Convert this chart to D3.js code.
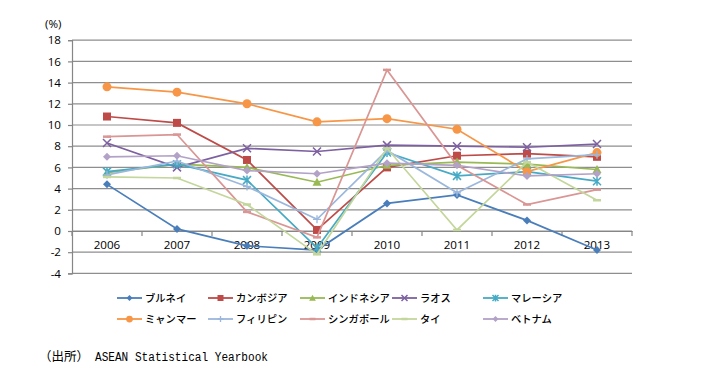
<!DOCTYPE html>
<html><head><meta charset="utf-8">
<script src="https://cdn.jsdelivr.net/npm/d3@7"></script>
<style>body{margin:0;background:#fff}svg{display:block}</style>
</head><body>
<svg id="c" width="716" height="391"></svg>
<script>
const years = ["2006","2007","2008","2009","2010","2011","2012","2013"];
const yTicks = [-4,-2,0,2,4,6,8,10,12,14,16,18];
const seriesNames = ["ブルネイ","カンボジア","インドネシア","ラオス","マレーシア","ミャンマー","フィリピン","シンガポール","タイ","ベトナム"];
const brunei    = [4.4, 0.2, -1.4, -1.8, 2.6, 3.4, 1.0, -1.8];
const cambodia  = [10.8, 10.2, 6.7, 0.1, 6.0, 7.1, 7.3, 7.0];
const indonesia = [5.5, 6.3, 6.0, 4.6, 6.2, 6.5, 6.3, 5.8];
const laos      = [8.3, 6.0, 7.8, 7.5, 8.1, 8.0, 7.9, 8.2];
const malaysia  = [5.6, 6.3, 4.8, -1.6, 7.4, 5.2, 5.6, 4.7];
const myanmar   = [13.6, 13.1, 12.0, 10.3, 10.6, 9.6, 5.6, 7.4];
const philippines = [5.3, 6.6, 4.2, 1.1, 7.6, 3.6, 6.8, 7.2];
const singapore = [8.9, 9.1, 1.8, -0.6, 15.2, 6.2, 2.5, 3.9];
const thailand  = [5.1, 5.0, 2.5, -2.2, 7.8, 0.1, 6.5, 2.9];
const vietnam   = [7.0, 7.1, 5.7, 5.4, 6.4, 6.2, 5.2, 5.4];
const colors = ["#4A7EBB","#BE4B48","#98B954","#7D60A0","#46AAC5","#F79646","#9BB7DC","#D99694","#C3D69B","#B3A2C7"];
const markers = ["diamond","square","triangle","x","star","circle","plus","dash","dash","diamond"];
const allData = [brunei,cambodia,indonesia,laos,malaysia,myanmar,philippines,singapore,thailand,vietnam];

const svg = d3.select("#c");
const x = d3.scaleBand().domain(years).range([72,632]);
const y = d3.scaleLinear().domain([-4,18]).range([273.4,40.2]);
const cx = d => x(d) + x.bandwidth()/2;
const axisFont = "'Open Sans',sans-serif";

// gridlines
svg.append("g").selectAll("line").data(yTicks).join("line")
  .attr("x1",72).attr("x2",632).attr("y1",d=>y(d)).attr("y2",d=>y(d))
  .attr("stroke","#8e8e8e").attr("stroke-width",1.2);
// y axis
const ya = svg.append("g").attr("transform","translate(72,0)")
  .call(d3.axisLeft(y).tickValues(yTicks).tickSize(4).tickPadding(7).tickFormat(d=>String(d)));
ya.select(".domain").attr("stroke","#868686").attr("stroke-width",1.2);
ya.selectAll(".tick line").attr("stroke","#868686").attr("stroke-width",1.2);
ya.selectAll("text").attr("font-family",axisFont).attr("font-size","11.6px").attr("fill","#000");
// x axis at 0
const xa = svg.append("g").attr("transform",`translate(0,${y(0)})`)
  .call(d3.axisBottom(x).tickSize(0).tickPadding(10));
xa.select(".domain").attr("stroke","#868686").attr("stroke-width",1.2);
xa.selectAll("text").attr("font-family",axisFont).attr("font-size","11.6px").attr("fill","#000");
// category boundary tick marks
svg.append("g").selectAll("line").data(d3.range(years.length+1)).join("line")
  .attr("x1",i=>72+i*x.bandwidth()).attr("x2",i=>72+i*x.bandwidth())
  .attr("y1",y(0)).attr("y2",y(0)+5).attr("stroke","#868686").attr("stroke-width",1.2);

svg.append("text").attr("x",45).attr("y",28).text("(%)")
  .attr("font-family",axisFont).attr("font-size","11.6px");

function drawMarker(g, type, color, px, py, s){
  s = s||1;
  if(type==="diamond"){
    g.append("path").attr("d",`M${px},${py-4*s}L${px+4*s},${py}L${px},${py+4*s}L${px-4*s},${py}Z`).attr("fill",color);
  } else if(type==="square"){
    g.append("rect").attr("x",px-4*s).attr("y",py-4*s).attr("width",8*s).attr("height",8*s).attr("fill",color);
  } else if(type==="triangle"){
    g.append("path").attr("d",`M${px},${py-4.5*s}L${px+4.5*s},${py+3.5*s}L${px-4.5*s},${py+3.5*s}Z`).attr("fill",color);
  } else if(type==="circle"){
    g.append("circle").attr("cx",px).attr("cy",py).attr("r",4.5*s).attr("fill",color);
  } else if(type==="x"){
    g.append("path").attr("d",`M${px-4*s},${py-4*s}L${px+4*s},${py+4*s}M${px-4*s},${py+4*s}L${px+4*s},${py-4*s}`).attr("stroke",color).attr("stroke-width",1.5);
  } else if(type==="star"){
    g.append("path").attr("d",`M${px-4*s},${py-4*s}L${px+4*s},${py+4*s}M${px-4*s},${py+4*s}L${px+4*s},${py-4*s}M${px},${py-4.5*s}L${px},${py+4.5*s}`).attr("stroke",color).attr("stroke-width",1.5);
  } else if(type==="plus"){
    g.append("path").attr("d",`M${px-4*s},${py}L${px+4*s},${py}M${px},${py-4*s}L${px},${py+4*s}`).attr("stroke",color).attr("stroke-width",1.3);
  } else if(type==="dash"){
    g.append("path").attr("d",`M${px-4*s},${py}L${px+4*s},${py}`).attr("stroke",color).attr("stroke-width",2.5);
  }
}

const line = d3.line().x((d,i)=>cx(years[i])).y(d=>y(d));
allData.forEach((vals,k)=>{
  const g = svg.append("g");
  g.append("path").attr("d",line(vals)).attr("fill","none").attr("stroke",colors[k]).attr("stroke-width",1.7);
  vals.forEach((v,i)=>drawMarker(g, markers[k], colors[k], cx(years[i]), y(v)));
});

// legend
const legX = [117,208,300,392,483];
const legY = [298,319];
seriesNames.forEach((name,k)=>{
  const lx = legX[k%5], ly = legY[Math.floor(k/5)];
  const g = svg.append("g");
  g.append("line").attr("x1",lx).attr("x2",lx+25).attr("y1",ly).attr("y2",ly).attr("stroke",colors[k]).attr("stroke-width",1.8);
  drawMarker(g, markers[k], colors[k], lx+12.5, ly, 0.75);
  g.append("text").attr("x",lx+28).attr("y",ly+3.8).text(name)
    .attr("font-family","'Noto Sans CJK JP',sans-serif").attr("font-size","10.3px").attr("font-weight","500").attr("fill","#000");
});

// source
svg.append("text").attr("x",39).attr("y",361).text("（出所）")
  .attr("font-family","'Noto Sans CJK JP',sans-serif").attr("font-size","12.5px");
svg.append("text").attr("x",95).attr("y",361).text("ASEAN Statistical Yearbook")
  .attr("font-family","'Liberation Mono',monospace").attr("font-size","12.5px")
  .attr("textLength",173).attr("lengthAdjust","spacingAndGlyphs");
</script>
</body></html>
